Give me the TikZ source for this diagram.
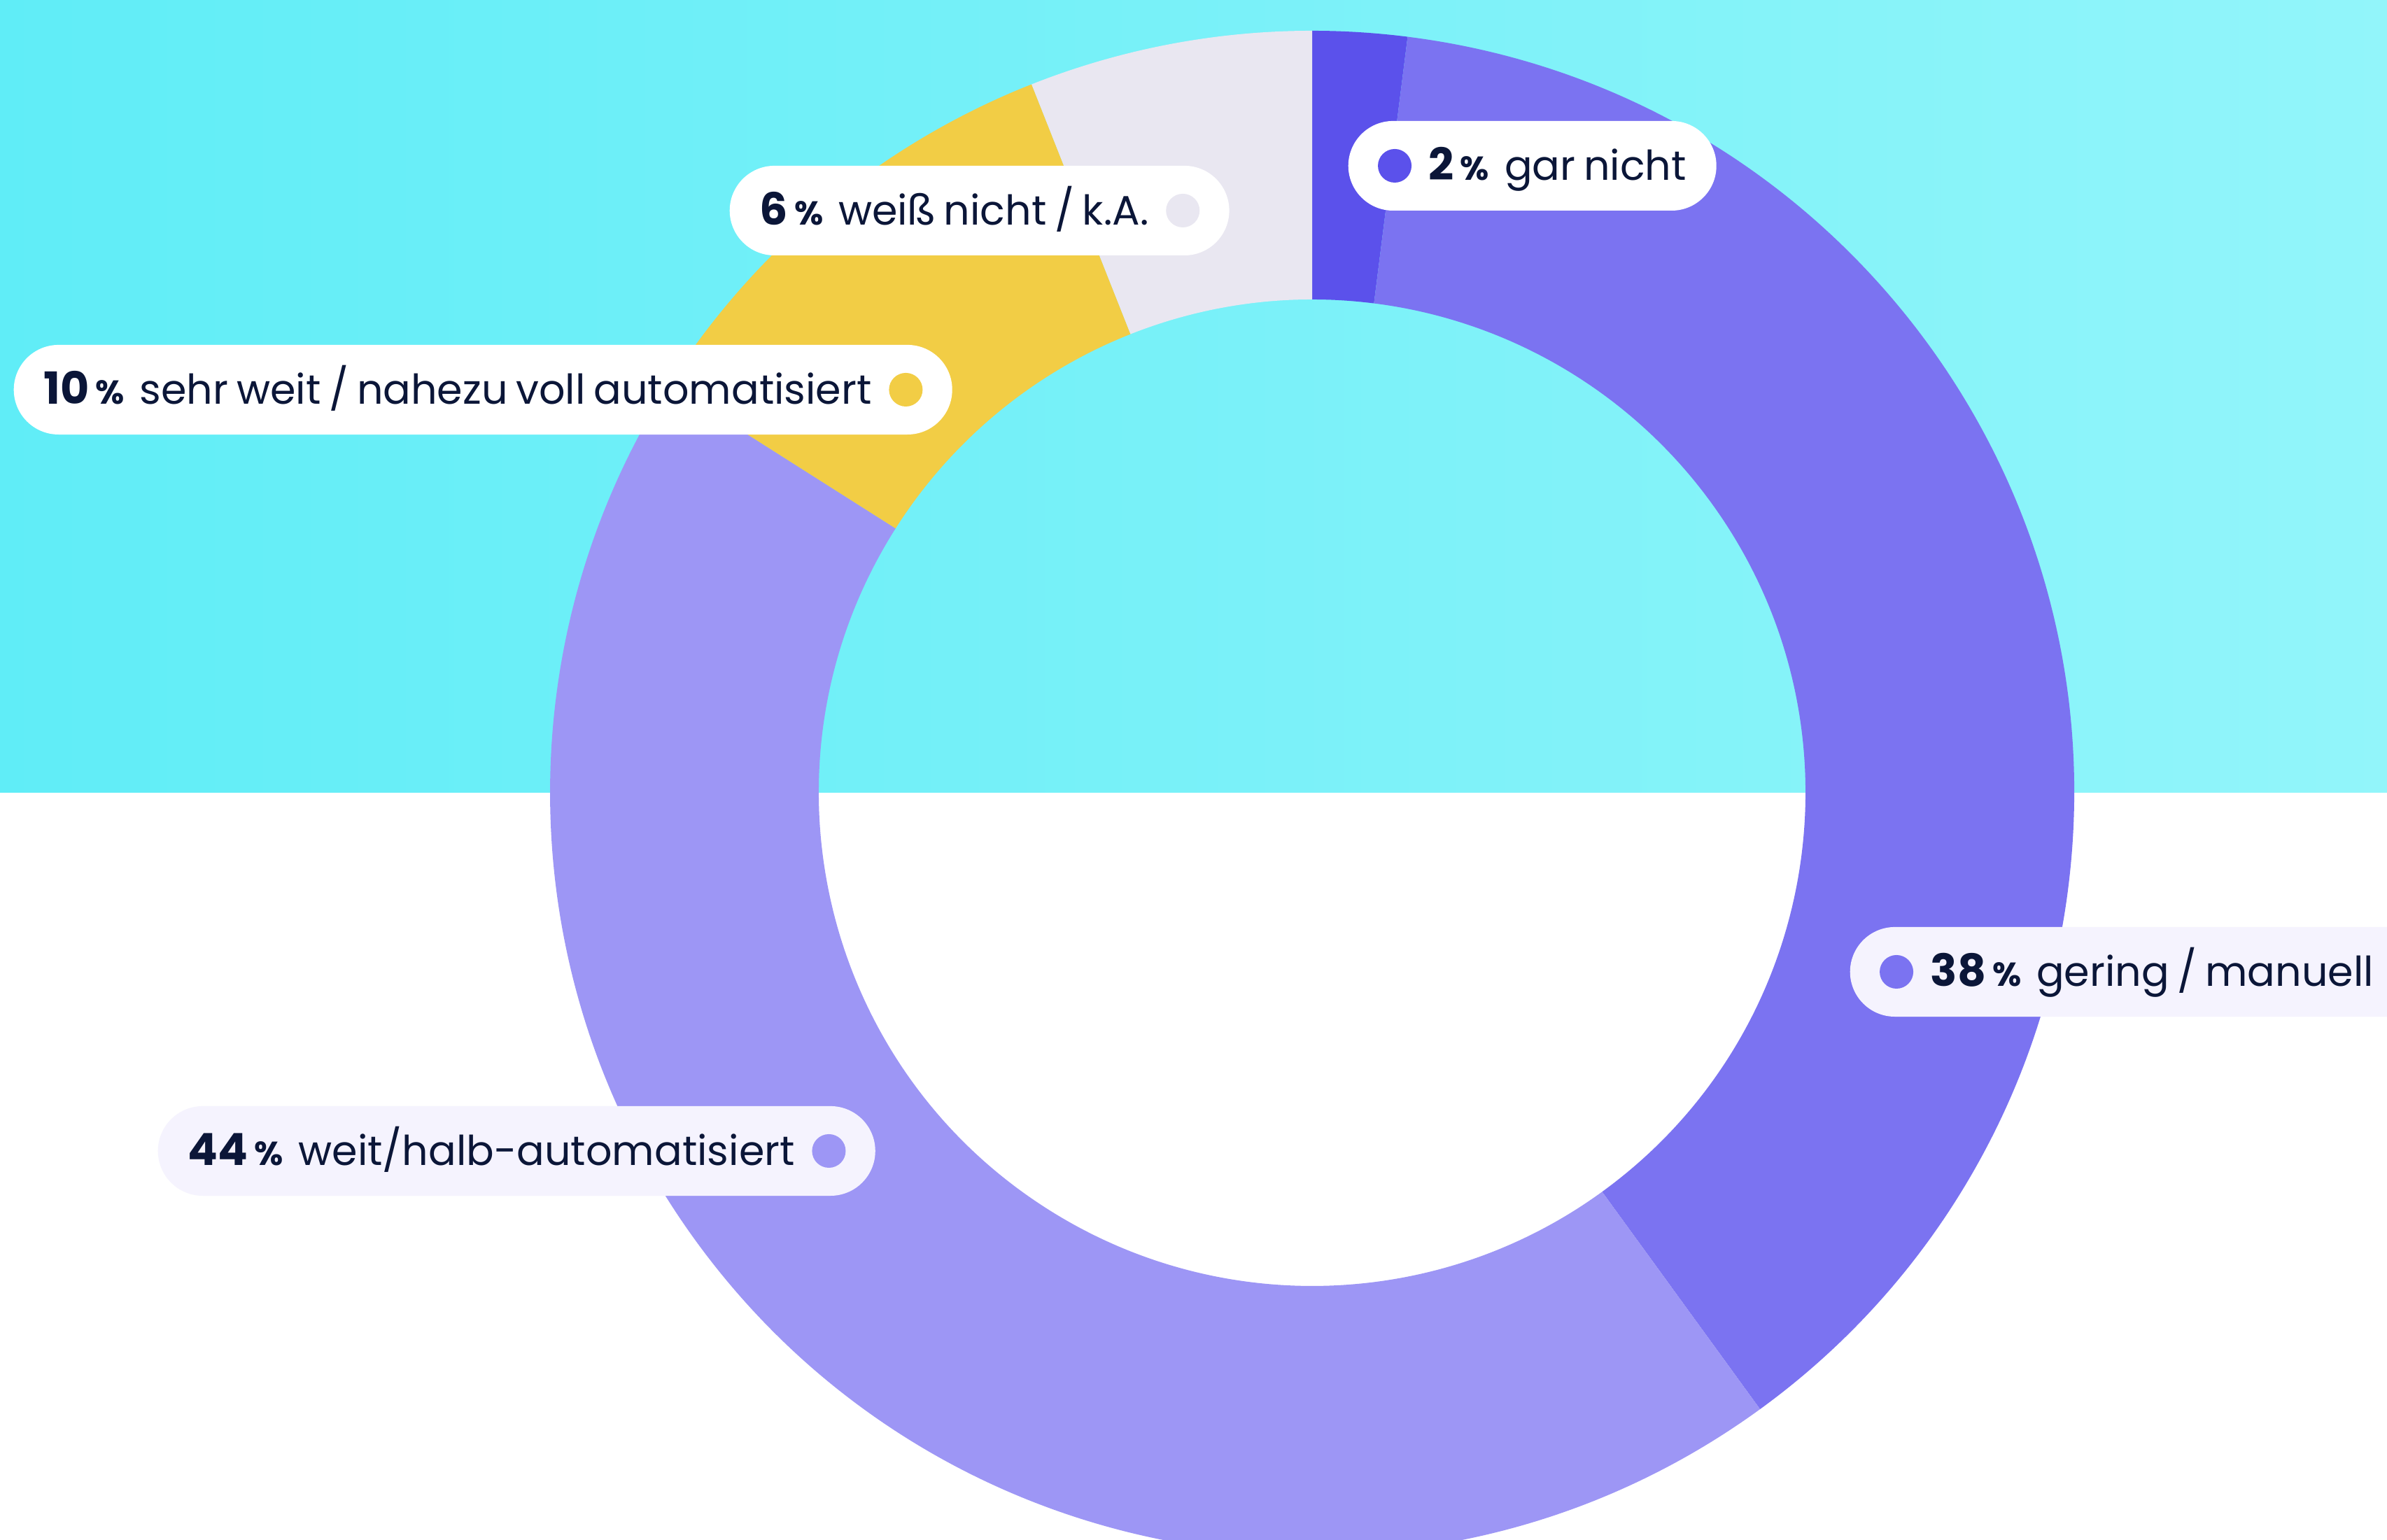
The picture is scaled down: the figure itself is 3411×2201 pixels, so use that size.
\documentclass[tikz,border=0pt]{standalone}
\usepackage{fontspec}
\setmainfont{Poppins}[WordSpace=0.75]
\usetikzlibrary{positioning,calc}
\definecolor{bgcyan}{RGB}{96,237,247}
\definecolor{bgcyanlight}{RGB}{146,245,250}
\definecolor{segnone}{RGB}{91,81,235}
\definecolor{seglow}{RGB}{123,115,241}
\definecolor{segmid}{RGB}{157,150,245}
\definecolor{seghigh}{RGB}{242,205,69}
\definecolor{segunknown}{RGB}{233,231,241}
\definecolor{labeltext}{RGB}{11,22,56}
\definecolor{pilllavender}{RGB}{245,243,254}
\newcommand{\share}[1]{{\fontsize{18pt}{18pt}\selectfont\bfseries #1}\kern0.09cm{\fontsize{13.5pt}{13.5pt}\selectfont\bfseries\%}\kern0.1cm\ }

\begin{document}
\begin{tikzpicture}[x=0.01cm, y=0.01cm,
    pill/.style={fill=white, rounded corners=0.64cm, minimum height=1.28cm,
      inner xsep=0.43cm, inner ysep=0pt, text height=0.55cm, text depth=0.13cm,
      text=labeltext, anchor=west, font=\fontsize{16.7pt}{16.7pt}\selectfont},
    dot/.style={circle, minimum size=0.48cm, inner sep=0pt}]
    \useasboundingbox (0,0) rectangle (3411,2201);
    \clip (0,0) rectangle (3411,2201);
    % Background halves
    \fill[white] (0,0) rectangle (3411,1068);
    \shade[left color=bgcyan, right color=bgcyanlight] (0,1068) rectangle (3411,2201);
    % Ring segments, clockwise from the top
    \begin{scope}[shift={(1875,1068)}]
        \foreach \from/\to/\col in {90/82.8/segnone, 82.8/-54/seglow, -54/-212.4/segmid,
                                   -212.4/-248.4/seghigh, -248.4/-270/segunknown} {
            \fill[\col] (\from:1089) arc[start angle=\from, end angle=\to, radius=1089]
                -- (\to:705) arc[start angle=\to, end angle=\from, radius=705] -- cycle;
        }
    \end{scope}
    % Labels
    \node[pill] (garnicht) at (1926,1964) {\kern0.72cm\share{2}gar nicht};
    \node[dot, fill=segnone] (garnichtdot) at ([xshift=0.67cm]garnicht.west) {};
    \node[pill] (weissnicht) at (1042,1900) {\share{6}weiß nicht / k.A.\kern0.72cm};
    \node[dot, fill=segunknown] (weissnichtdot) at ([xshift=-0.67cm]weissnicht.east) {};
    \node[pill] (sehrweit) at (19,1644) {\share{10}sehr weit / nahezu voll automatisiert\kern0.72cm};
    \node[dot, fill=seghigh] (sehrweitdot) at ([xshift=-0.67cm]sehrweit.east) {};
    \node[pill, fill=pilllavender] (gering) at (2643,812) {\kern0.72cm\share{38}gering / manuell\kern0.5cm};
    \node[dot, fill=seglow] (geringdot) at ([xshift=0.67cm]gering.west) {};
    \node[pill, fill=pilllavender] (weithalb) at (225,556) {\share{44}weit/halb-automatisiert\kern0.72cm};
    \node[dot, fill=segmid] (weithalbdot) at ([xshift=-0.67cm]weithalb.east) {};
\end{tikzpicture}
\end{document}
